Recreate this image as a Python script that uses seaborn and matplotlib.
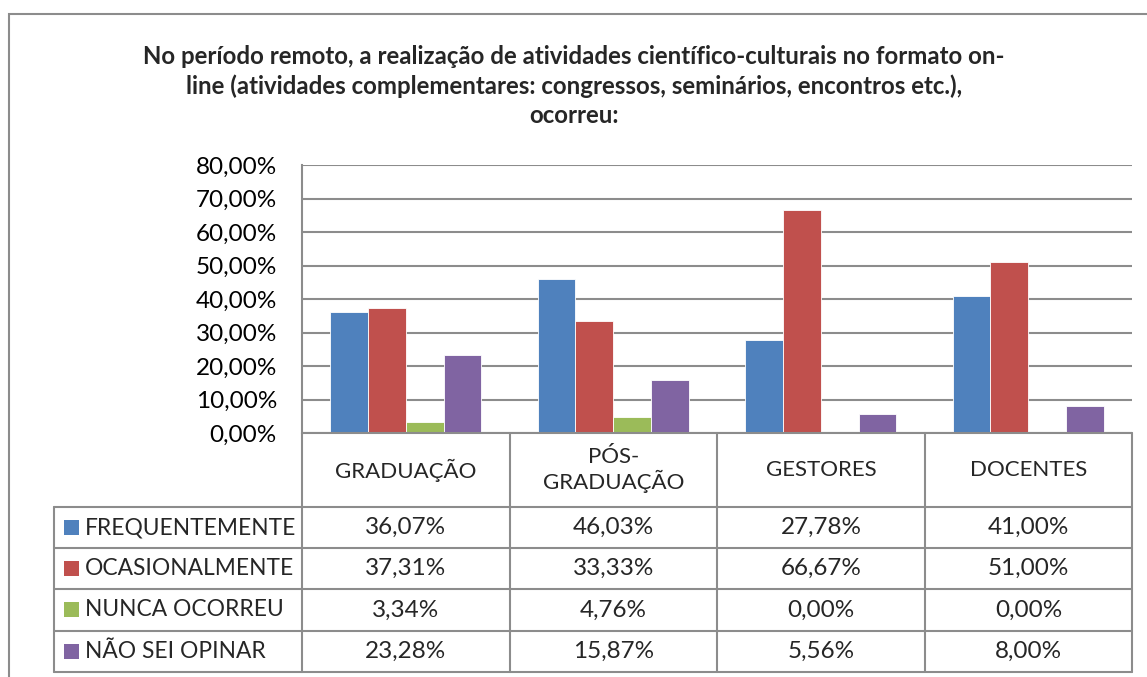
import pandas as pd
import seaborn as sns
import numpy as np
import matplotlib.pyplot as plt
from matplotlib.lines import Line2D
from matplotlib.patches import Rectangle

categorias = ["GRADUAÇÃO", "PÓS-\nGRADUAÇÃO", "GESTORES", "DOCENTES"]
series = ["FREQUENTEMENTE", "OCASIONALMENTE", "NUNCA OCORREU", "NÃO SEI OPINAR"]
frequentemente = [0.3607, 0.4603, 0.2778, 0.41]
ocasionalmente = [0.3731, 0.3333, 0.6667, 0.51]
nunca_ocorreu = [0.0334, 0.0476, 0.0, 0.0]
nao_sei_opinar = [0.2328, 0.1587, 0.0556, 0.08]
yticks = [0.0, 0.1, 0.2, 0.3, 0.4, 0.5, 0.6, 0.7, 0.8]
cores = ["#4F81BD", "#C0504D", "#9BBB59", "#8064A2"]
titulo = ("No período remoto, a realização de atividades científico-culturais no formato on-\n"
          "line (atividades complementares: congressos, seminários, encontros etc.),\n"
          "ocorreu:")

valores = [frequentemente, ocasionalmente, nunca_ocorreu, nao_sei_opinar]
linhas = []
for s, vals in zip(series, valores):
    for c, v in zip(categorias, vals):
        linhas.append({"categoria": c, "serie": s, "valor": v})
df = pd.DataFrame(linhas)

sns.set_theme(style="white")
plt.rcParams["font.family"] = ["Lato", "DejaVu Sans"]

W, H = 1147, 677
fig = plt.figure(figsize=(W / 100, H / 100), dpi=100)
cinza = "#8c8c8c"

def fx(x):
    return x / W

def fy(y):
    return 1 - y / H

# area do grafico em pixels
x0, x1, ytop, y0 = 302, 1132, 165, 433
ax = fig.add_axes([fx(x0), fy(y0), fx(x1) - fx(x0), fy(ytop) - fy(y0)])
sns.barplot(data=df, x="categoria", y="valor", hue="serie", order=categorias,
            hue_order=series, palette=cores, width=0.73, saturation=1,
            edgecolor="white", linewidth=0.6, legend=False, ax=ax)
ax.set_xlim(-0.5, 3.5)
ax.set_ylim(0, 0.8)
ax.set_yticks(yticks)
ax.set_yticklabels([f"{t*100:.2f}%".replace(".", ",") for t in yticks], fontsize=17.5)
ax.tick_params(axis="y", length=0, pad=18, colors="black")
ax.set_xticks([])
ax.set_xlabel("")
ax.set_ylabel("")
ax.yaxis.grid(True, color=cinza, linewidth=1.5)
ax.set_axisbelow(True)
for sp in ["top", "right", "bottom"]:
    ax.spines[sp].set_visible(False)
ax.spines["left"].set_color(cinza)
ax.spines["left"].set_linewidth(1.5)

# borda externa
fig.add_artist(Rectangle((fx(9), fy(700)), fx(1160) - fx(9), fy(14) - fy(700),
                         transform=fig.transFigure, fill=False, edgecolor=cinza, linewidth=1.5))

fig.text(fx(574), fy(86), titulo, ha="center", va="center", fontsize=17.3, fontweight="bold",
         linespacing=1.33)

# tabela de dados
colx = [302, 510, 717, 925, 1132]
rowy = [433, 507, 548, 589, 631, 672]
tx = 54

def linha(xa, ya, xb, yb):
    fig.add_artist(Line2D([fx(xa), fx(xb)], [fy(ya), fy(yb)], transform=fig.transFigure,
                          color=cinza, linewidth=1.5))

linha(colx[0], rowy[0], colx[-1], rowy[0])
for y in rowy[1:]:
    linha(tx, y, colx[-1], y)
for x in colx:
    linha(x, rowy[0], x, rowy[-1])
linha(tx, rowy[1], tx, rowy[-1])

for i, c in enumerate(categorias):
    xc = (colx[i] + colx[i + 1]) / 2
    fig.text(fx(xc), fy((rowy[0] + rowy[1]) / 2), c, ha="center", va="center",
             fontsize=16, linespacing=1.15)

for j, (s, vals) in enumerate(zip(series, valores)):
    yc = (rowy[j + 1] + rowy[j + 2]) / 2
    fig.add_artist(Rectangle((fx(64), fy(yc + 7)), fx(15), fy(0) - fy(15),
                             transform=fig.transFigure, facecolor=cores[j], edgecolor="none"))
    fig.text(fx(85), fy(yc), s, ha="left", va="center", fontsize=16.4)
    for i, v in enumerate(vals):
        xc = (colx[i] + colx[i + 1]) / 2
        fig.text(fx(xc), fy(yc), f"{v*100:.2f}%".replace(".", ","), ha="center",
                 va="center", fontsize=17.5)

plt.savefig("out.png", dpi=100)
